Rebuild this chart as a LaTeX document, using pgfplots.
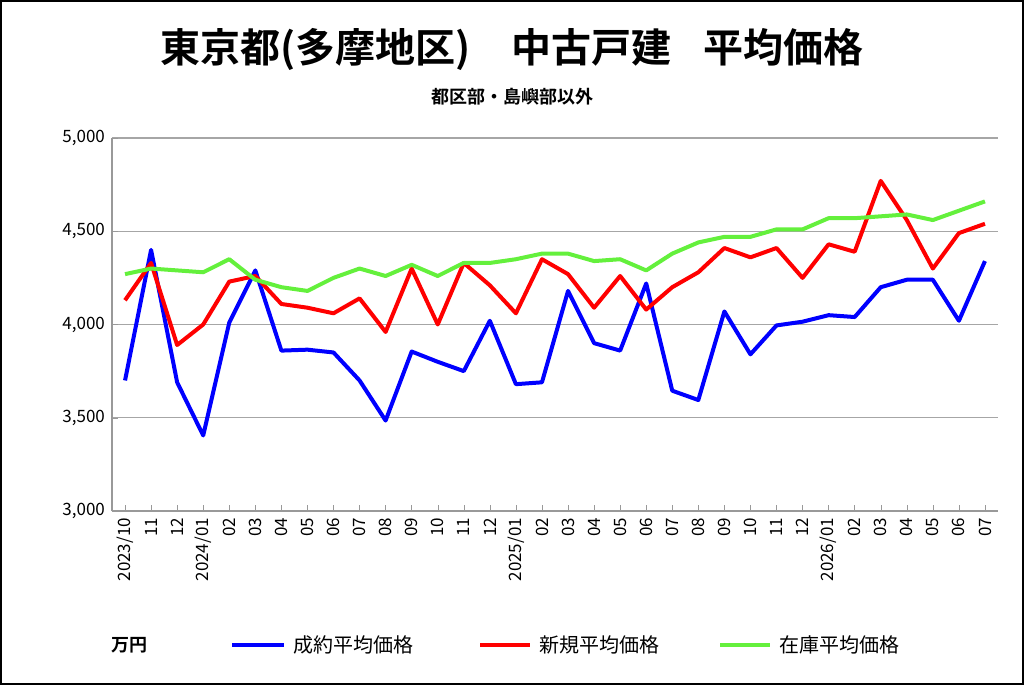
\documentclass[border=0pt]{standalone}
\usepackage{pgfplots}
\pgfplotsset{compat=1.18}
\usepackage{fontspec}
\setmainfont{Noto Sans CJK JP}
\newfontfamily\jpb{Noto Sans CJK JP}[BoldFont={* Bold}]
\definecolor{lgreen}{RGB}{100,240,60}
\begin{document}
\begin{tikzpicture}
\path[use as bounding box] (0,0) rectangle (512pt,342.5pt);
\draw[line width=1.2pt] (0.6pt,0.6pt) rectangle (511.4pt,341.9pt);
\begin{axis}[
  at={(56pt,87pt)}, anchor=south west, scale only axis,
  width=443pt, height=186.5pt,
  xmin=-0.5, xmax=33.5, ymin=3000, ymax=5000,
  ytick={3000,3500,4000,4500,5000},
  yticklabel style={/pgf/number format/.cd,1000 sep={,},assume math mode=true},
  ticklabel style={font=\fontsize{8.5}{10}\selectfont},
  xtick={0,...,33},
  xticklabels={2023/10,11,12,2024/01,02,03,04,05,06,07,08,09,10,11,12,2025/01,02,03,04,05,06,07,08,09,10,11,12,2026/01,02,03,04,05,06,07},
  xticklabel style={rotate=90,anchor=east},
  axis x line*=bottom, axis y line*=left,
  axis line style={gray!80,line width=0.8pt},
  ymajorgrids, grid style={gray!70,line width=0.6pt},
  tick style={gray!80}, major tick length=3pt,
  every axis plot/.style={line width=2pt,no markers,line join=round},
  clip=false,
]
\addplot[color=blue] coordinates {(0,3700)(1,4400)(2,3690)(3,3405)(4,4010)(5,4290)(6,3860)(7,3865)(8,3850)(9,3700)(10,3485)(11,3855)(12,3800)(13,3750)(14,4020)(15,3680)(16,3690)(17,4180)(18,3900)(19,3860)(20,4220)(21,3645)(22,3595)(23,4070)(24,3840)(25,3995)(26,4015)(27,4050)(28,4040)(29,4200)(30,4240)(31,4240)(32,4020)(33,4340)};
\addplot[color=red] coordinates {(0,4130)(1,4330)(2,3890)(3,4000)(4,4230)(5,4260)(6,4110)(7,4090)(8,4060)(9,4140)(10,3960)(11,4300)(12,4000)(13,4330)(14,4210)(15,4060)(16,4350)(17,4270)(18,4090)(19,4260)(20,4080)(21,4200)(22,4280)(23,4410)(24,4360)(25,4410)(26,4250)(27,4430)(28,4390)(29,4770)(30,4560)(31,4300)(32,4490)(33,4540)};
\addplot[color=lgreen] coordinates {(0,4270)(1,4300)(2,4290)(3,4280)(4,4350)(5,4240)(6,4200)(7,4180)(8,4250)(9,4300)(10,4260)(11,4320)(12,4260)(13,4330)(14,4330)(15,4350)(16,4380)(17,4380)(18,4340)(19,4350)(20,4290)(21,4380)(22,4440)(23,4470)(24,4470)(25,4510)(26,4510)(27,4570)(28,4570)(29,4580)(30,4590)(31,4560)(32,4610)(33,4660)};
\end{axis}
\node[font=\jpb\bfseries\fontsize{20}{22}\selectfont] at (256pt,318pt) {東京都(多摩地区)\hspace{1em}中古戸建\hspace{0.8em}平均価格};
\node[font=\jpb\bfseries\fontsize{9}{11}\selectfont] at (256pt,294pt) {都区部・島嶼部以外};
\node[font=\jpb\bfseries\fontsize{9}{11}\selectfont,anchor=west] at (52pt,20pt) {万円};
\draw[blue,line width=2pt] (116pt,20pt) -- (142pt,20pt);
\node[font=\fontsize{10}{12}\selectfont,anchor=west] at (143pt,20pt) {成約平均価格};
\draw[red,line width=2pt] (240pt,20pt) -- (265pt,20pt);
\node[font=\fontsize{10}{12}\selectfont,anchor=west] at (266pt,20pt) {新規平均価格};
\draw[lgreen,line width=2pt] (360pt,20pt) -- (385pt,20pt);
\node[font=\fontsize{10}{12}\selectfont,anchor=west] at (386pt,20pt) {在庫平均価格};
\end{tikzpicture}
\end{document}
